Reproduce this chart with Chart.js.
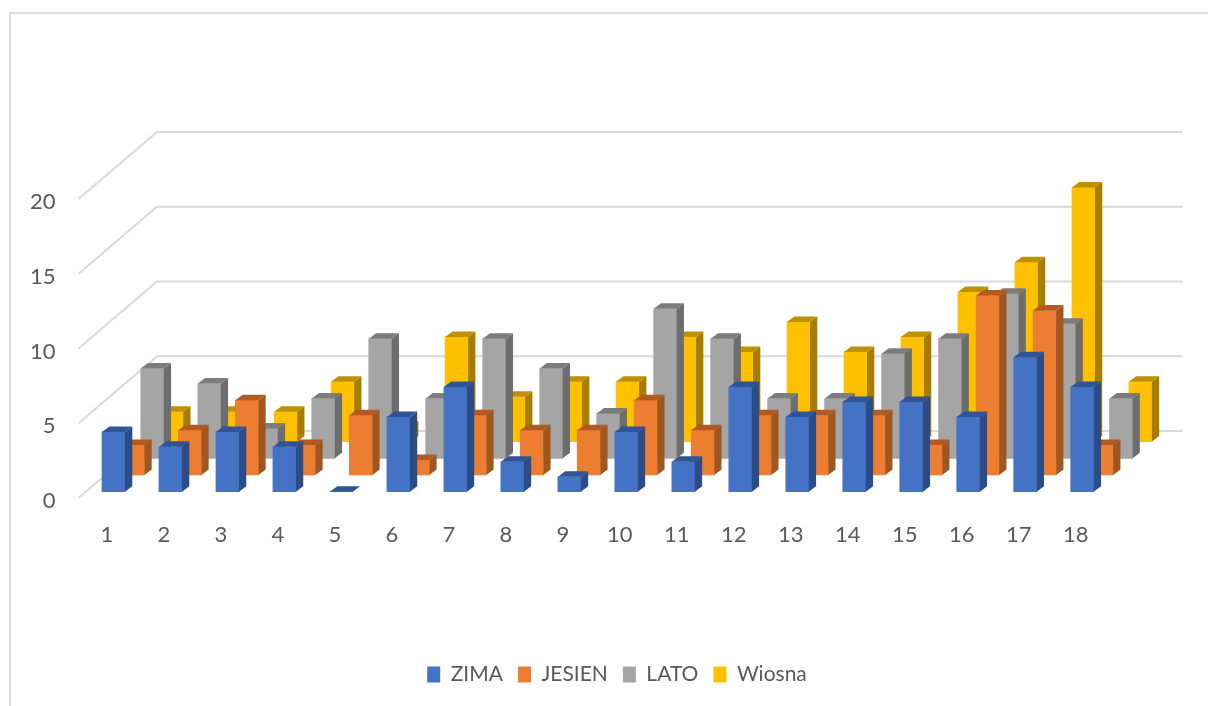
<!DOCTYPE html>
<html>
<head>
<meta charset="utf-8">
<script src="https://cdn.jsdelivr.net/npm/chart.js@4"></script>
<style>
    html, body { margin: 0; background: #fff; }
    #frame { position: absolute; left: 9px; top: 12px; right: 0; bottom: 0; border-left: 2px solid #dcdcdc; border-top: 2px solid #dcdcdc; }
    canvas { position: absolute; left: 0; top: 0; filter: blur(0.6px); }
</style>
</head>
<body>
<div id="frame"></div>
<canvas id="chart" width="1208" height="706"></canvas>
<script>
const categories = ['1', '2', '3', '4', '5', '6', '7', '8', '9', '10', '11', '12', '13', '14', '15', '16', '17', '18'];
const zima = [4, 3, 4, 3, 0, 5, 7, 2, 1, 4, 2, 7, 5, 6, 6, 5, 9, 7];
const jesien = [2, 3, 5, 2, 4, 1, 4, 3, 3, 5, 3, 4, 4, 4, 2, 12, 11, 2];
const lato = [6, 5, 2, 4, 8, 4, 8, 6, 3, 10, 8, 4, 4, 7, 8, 11, 9, 4];
const wiosna = [2, 2, 2, 4, 1, 7, 3, 4, 4, 7, 6, 8, 6, 7, 10, 12, 17, 4];

const TEXT_COLOR = '#595959';
const GRID_COLOR = '#d9d9d9';

// fake 3d: every series sits further back on the floor
const WALL_X = 78.5;
const WALL_Y = 67;
const START_X = 6.5;
const START_Y = 6.3;
const STEP_X = 19.4;
const STEP_Y = 16.7;
const BAR_DEPTH = 7.3;
const BAR_RISE = 5.5;

const sideColors = ['#2b4c86', '#a0561f', '#6d6d6d', '#a67d00'];
const topColors = ['#2f5597', '#b25a1f', '#7c7c7c', '#bf9000'];

const depth3d = {
    id: 'depth3d',
    afterLayout(chart) {
        // the legend in the picture is off centre
        chart.legend.left = 26;
        chart.legend.right = 1208;
        chart.legend.top = 649;
    },
    beforeDatasetsDraw(chart) {
        const ctx = chart.ctx;
        const x = chart.scales.x;
        const y = chart.scales.y;
        ctx.save();
        ctx.strokeStyle = GRID_COLOR;
        ctx.lineWidth = 2;
        y.ticks.forEach(tick => {
            const py = y.getPixelForValue(tick.value);
            ctx.beginPath();
            ctx.moveTo(x.left, py);
            ctx.lineTo(x.left + WALL_X, py - WALL_Y);
            ctx.lineTo(x.right + WALL_X, py - WALL_Y);
            ctx.stroke();
        });
        ctx.restore();
    },
    beforeDatasetDraw(chart, args) {
        const ctx = chart.ctx;
        ctx.save();
        ctx.translate(START_X + args.index * STEP_X, -(START_Y + args.index * STEP_Y));
    },
    afterDatasetDraw(chart, args) {
        const ctx = chart.ctx;
        args.meta.data.forEach(bar => {
            const right = bar.x + bar.width / 2;
            const left = bar.x - bar.width / 2;
            ctx.fillStyle = sideColors[args.index];
            ctx.beginPath();
            ctx.moveTo(right, bar.y);
            ctx.lineTo(right + BAR_DEPTH, bar.y - BAR_RISE);
            ctx.lineTo(right + BAR_DEPTH, bar.base - BAR_RISE);
            ctx.lineTo(right, bar.base);
            ctx.closePath();
            ctx.fill();
            ctx.fillStyle = topColors[args.index];
            ctx.beginPath();
            ctx.moveTo(left, bar.y);
            ctx.lineTo(left + BAR_DEPTH, bar.y - BAR_RISE);
            ctx.lineTo(right + BAR_DEPTH, bar.y - BAR_RISE);
            ctx.lineTo(right, bar.y);
            ctx.closePath();
            ctx.fill();
        });
        ctx.restore();
    }
};

const makeSeries = function (label, data, color) {
    return { label: label, data: data, backgroundColor: color, clip: false };
};

const ctx = document.getElementById('chart').getContext('2d');
new Chart(ctx, {
    type: 'bar',
    data: {
        labels: categories,
        datasets: [
            makeSeries('ZIMA', zima, '#4472c4'),
            makeSeries('JESIEN', jesien, '#ed7d31'),
            makeSeries('LATO', lato, '#a5a5a5'),
            makeSeries('Wiosna', wiosna, '#ffc000')
        ]
    },
    plugins: [depth3d],
    options: {
        responsive: false,
        animation: false,
        grouped: false,
        barThickness: 23,
        layout: { padding: { top: 199, left: 18.5, right: 103.8, bottom: 0 } },
        scales: {
            x: {
                grid: { display: false },
                border: { display: false },
                ticks: { color: TEXT_COLOR, padding: 16, maxRotation: 0, autoSkip: false, font: { family: 'Lato', size: 22 } },
                afterFit: scale => { scale.height = 162; }
            },
            y: {
                min: 0,
                max: 20,
                grid: { display: false },
                border: { display: false },
                ticks: { color: TEXT_COLOR, stepSize: 5, padding: 15, labelOffset: 3, font: { family: 'Lato', size: 22 } },
                afterFit: scale => { scale.width = 60; }
            }
        },
        plugins: {
            tooltip: { enabled: false },
            legend: {
                position: 'bottom',
                labels: { color: TEXT_COLOR, boxWidth: 13, boxHeight: 16, padding: 15, font: { family: 'Lato', size: 21 } }
            }
        }
    }
});
</script>
</body>
</html>
